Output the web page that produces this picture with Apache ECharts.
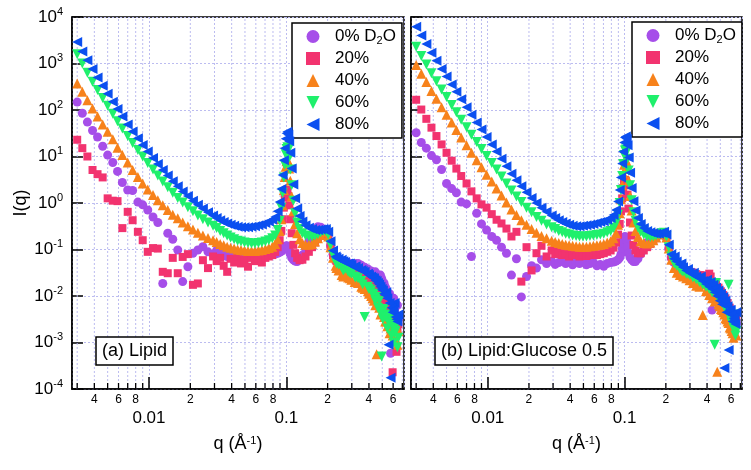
<!DOCTYPE html>
<html><head><meta charset="utf-8">
<script src="https://cdn.jsdelivr.net/npm/echarts@6/dist/echarts.min.js"></script>
<style>html,body{margin:0;padding:0;background:#fff}#c{width:751px;height:470px}</style>
</head><body><div id="c"></div>
<script>
// q values (Å^-1), shared by all series
const q = [0.0030,0.00327,0.00356,0.00388,0.00422,0.0046,0.0050,0.00545,0.0059,0.0064,
 0.0070,0.0076,0.0083,0.0090,0.0098,0.0107,0.0116,0.0126,0.0137,0.0149,
 0.0162,0.0176,0.0192,0.0209,0.0227,0.0247,0.0269,0.0293,0.0311,0.0330,
 0.0350,0.0371,0.0393,0.0417,0.0442,0.0468,0.0496,0.0526,0.0558,0.0591,
 0.0627,0.0664,0.0704,0.0746,0.0790,0.0830,0.0865,0.0895,0.0920,0.0940,
 0.0960,0.0975,0.0990,0.1005,0.1020,0.1035,0.1050,0.1070,0.1095,0.1125,
 0.1160,0.1200,0.1250,0.1310,0.1380,0.1460,0.1540,0.1620,0.1700,0.1780,
 0.1860,0.1940,0.2020,0.2100,0.2190,0.2290,0.2400,0.2530,0.2670,0.2820,
 0.2980,0.3150,0.3330,0.3520,0.3720,0.3930,0.4150,0.4350,0.4550,0.4750,
 0.4950,0.5150,0.5350,0.5550,0.5750,0.5950,0.6150,0.6350,0.6550];
// extra q values in the dense high-q tail
const qTail = [0.232,0.260,0.290,0.320,0.360,0.400,0.425,0.445,0.465,0.485,0.505,0.525,0.545,0.565,0.585,0.605,0.625,0.645];

// log10 I(q) (a) Lipid
const lipid_0 = [2.17,1.93,1.74,1.56,1.42,1.22,1.03,0.87,0.68,0.44,
 0.28,0.27,0.02,-0.04,-0.15,-0.30,-0.42,-1.73,-0.65,-0.78,
 -1.01,-1.69,-1.37,-1.08,-1.01,-0.94,-1.05,-1.10,-1.02,-1.12,
 -1.08,-1.15,-1.06,-1.12,-1.10,-1.14,-1.08,-1.12,-1.10,-1.13,
 -1.08,-1.10,-1.07,-1.05,-1.10,-1.10,-1.08,-1.06,-1.04,-1.02,
 -0.98,-0.95,-0.93,-0.92,-0.93,-0.97,-1.02,-1.10,-1.18,-1.22,
 -1.25,-1.26,-1.22,-1.12,-0.98,-0.82,-0.68,-0.56,-0.51,-0.52,
 -0.56,-0.60,-0.70,-0.92,-1.10,-1.18,-1.22,-1.24,-1.26,-1.28,
 -1.30,-1.30,-1.30,-1.34,-1.38,-1.42,-1.46,-1.50,-1.54,-1.58,
 -1.62,-1.72,-1.85,-1.98,-3.23,-2.10,-2.30,-2.20,-2.50];
const lipid_20 = [1.36,1.18,1.00,0.71,0.62,0.55,0.10,0.05,0.04,-0.54,
 -0.19,-0.37,-0.62,-0.80,-1.05,-0.97,-0.98,-1.48,-1.51,-1.18,
 -1.51,-1.16,-1.10,-1.76,-1.73,-1.23,-1.40,-1.15,-1.25,-1.18,
 -1.35,-1.48,-1.20,-1.28,-1.16,-1.30,-1.22,-1.37,-1.18,-1.25,
 -1.20,-1.28,-1.18,-1.15,-1.12,-1.05,-0.95,-0.80,-0.60,-0.35,
 -0.10,0.12,0.25,0.28,0.26,0.15,-0.05,-0.35,-0.65,-0.90,
 -1.08,-1.18,-1.23,-1.22,-1.15,-1.05,-0.95,-0.85,-0.76,-0.68,
 -0.64,-0.63,-0.70,-0.92,-1.12,-1.22,-1.28,-1.32,-1.35,-1.40,
 -1.45,-1.50,-1.52,-1.58,-1.62,-1.68,-1.75,-1.82,-1.90,-1.98,
 -2.05,-2.15,-2.25,-2.35,-2.20,-3.64,-2.45,-3.20,-2.60];
const lipid_40 = [2.57,2.39,2.21,2.03,1.86,1.69,1.53,1.37,1.19,1.03,
 0.87,0.71,0.56,0.42,0.29,0.17,0.06,-0.05,-0.15,-0.25,
 -0.33,-0.42,-0.50,-0.57,-0.64,-0.70,-0.75,-0.80,-0.84,-0.88,
 -0.91,-0.94,-0.96,-0.98,-1.00,-1.01,-1.02,-1.03,-1.03,-1.03,
 -1.02,-1.01,-0.99,-0.97,-0.94,-0.88,-0.78,-0.60,-0.35,-0.05,
 0.28,0.56,0.78,0.90,0.93,0.88,0.74,0.48,0.14,-0.18,
 -0.45,-0.65,-0.78,-0.86,-0.90,-0.90,-0.88,-0.83,-0.76,-0.69,
 -0.63,-0.62,-0.72,-0.95,-1.18,-1.35,-1.45,-1.55,-1.52,-1.60,
 -1.65,-1.70,-1.72,-1.80,-1.85,-1.90,-2.00,-2.10,-3.25,-2.25,
 -2.35,-2.45,-2.55,-2.40,-2.70,-2.85,-2.60,-2.95,-2.75];
const lipid_60 = [3.20,3.00,2.80,2.61,2.43,2.26,2.09,1.92,1.76,1.60,
 1.44,1.29,1.14,1.00,0.86,0.72,0.59,0.46,0.34,0.22,
 0.11,0.01,-0.09,-0.18,-0.27,-0.35,-0.42,-0.49,-0.54,-0.60,
 -0.65,-0.70,-0.74,-0.78,-0.81,-0.83,-0.85,-0.86,-0.87,-0.87,
 -0.86,-0.85,-0.83,-0.80,-0.76,-0.70,-0.58,-0.38,-0.10,0.22,
 0.55,0.82,1.05,1.16,1.20,1.14,0.98,0.72,0.38,0.05,
 -0.22,-0.42,-0.56,-0.65,-0.70,-0.72,-0.72,-0.70,-0.67,-0.63,
 -0.60,-0.60,-0.68,-0.90,-1.12,-1.25,-1.32,-1.38,-1.42,-1.48,
 -1.52,-1.58,-1.62,-1.68,-2.45,-1.80,-1.88,-1.95,-2.02,-2.10,
 -3.30,-2.28,-2.40,-2.52,-2.45,-2.65,-2.80,-2.62,-2.90];
const lipid_80 = [3.46,3.26,3.07,2.88,2.70,2.52,2.35,2.18,2.02,1.86,
 1.69,1.54,1.39,1.25,1.11,0.97,0.84,0.71,0.59,0.47,
 0.36,0.25,0.15,0.05,-0.04,-0.12,-0.20,-0.27,-0.32,-0.37,
 -0.41,-0.44,-0.47,-0.49,-0.51,-0.52,-0.52,-0.52,-0.51,-0.50,
 -0.48,-0.46,-0.43,-0.40,-0.36,-0.30,-0.18,0.02,0.30,0.60,
 0.92,1.18,1.38,1.50,1.53,1.47,1.33,1.08,0.74,0.40,
 0.10,-0.12,-0.28,-0.40,-0.48,-0.53,-0.56,-0.58,-0.58,-0.57,
 -0.56,-0.56,-0.62,-0.82,-1.02,-1.15,-1.20,-1.22,-1.27,-1.30,
 -1.33,-1.38,-1.40,-1.44,-1.48,-1.52,-1.58,-1.62,-1.68,-1.75,
 -1.85,-1.95,-1.92,-3.05,-3.76,-2.35,-2.15,-2.50,-2.40];
const lipid_0_tail = [-1.20,-1.27,-1.32,-1.34,-1.40,-1.50,-1.55,-1.48,-1.62,-1.55,-1.75,-1.80,-2.05,-1.95,-2.25,-2.05,-2.40,-2.20];
const lipid_20_tail = [-1.25,-1.34,-1.42,-1.50,-1.58,-1.66,-1.72,-1.85,-1.78,-2.00,-1.95,-2.20,-2.30,-2.45,-2.30,-2.60,-2.50,-2.75];
const lipid_40_tail = [-1.40,-1.58,-1.62,-1.68,-1.82,-1.95,-2.05,-2.20,-2.10,-2.40,-2.30,-2.55,-2.65,-2.80,-2.50,-2.95,-2.70,-3.05];
const lipid_60_tail = [-1.30,-1.45,-1.50,-1.60,-1.75,-1.85,-1.95,-2.10,-2.25,-2.35,-2.50,-2.45,-2.70,-2.60,-2.85,-3.00,-2.75,-3.10];
const lipid_80_tail = [-1.18,-1.25,-1.30,-1.36,-1.46,-1.55,-1.60,-1.66,-1.72,-1.80,-1.88,-1.98,-2.05,-2.15,-2.25,-2.30,-2.45,-2.55];

// log10 I(q) (b) Lipid:Glucose 0.5
const glucose_0 = [1.51,1.30,1.18,1.02,0.93,0.72,0.42,0.31,0.22,0.02,
 -0.02,-1.15,-0.22,-0.45,-0.58,-0.72,-0.80,-0.95,-1.08,-1.55,
 -1.20,-2.02,-1.58,-1.35,-1.40,-1.22,-1.30,-1.25,-1.32,-1.28,
 -1.22,-1.30,-1.26,-1.33,-1.28,-1.30,-1.27,-1.33,-1.30,-1.28,
 -1.35,-1.32,-1.36,-1.30,-1.28,-1.27,-1.25,-1.22,-1.18,-1.10,
 -0.98,-0.86,-0.76,-0.72,-0.74,-0.82,-0.94,-1.08,-1.17,-1.22,
 -1.26,-1.26,-1.20,-1.10,-0.98,-0.85,-0.74,-0.67,-0.65,-0.66,
 -0.66,-0.66,-0.74,-0.98,-1.18,-1.28,-1.34,-1.40,-1.45,-1.48,
 -1.52,-1.55,-1.58,-1.62,-1.66,-1.70,-1.76,-2.30,-1.85,-1.92,
 -2.00,-2.08,-2.15,-2.25,-2.38,-2.50,-2.62,-2.70,-2.60];
const glucose_20 = [2.22,2.01,1.81,1.62,1.44,1.26,1.08,0.91,0.74,0.58,
 0.42,0.25,0.10,-0.03,-0.10,-0.24,-0.36,-0.44,-0.55,-0.72,
 -0.62,-1.69,-0.95,-1.45,-1.08,-0.92,-1.15,-1.02,-1.10,-1.05,
 -1.12,-1.08,-1.15,-1.10,-1.12,-1.15,-1.10,-1.14,-1.12,-1.10,
 -1.12,-1.10,-1.08,-1.05,-1.02,-0.96,-0.85,-0.68,-0.45,-0.18,
 0.10,0.32,0.46,0.50,0.48,0.38,0.18,-0.12,-0.42,-0.70,
 -0.90,-1.02,-1.08,-1.08,-1.02,-0.95,-0.88,-0.80,-0.72,-0.68,
 -0.65,-0.64,-0.72,-0.95,-1.15,-1.25,-1.32,-1.38,-1.42,-1.45,
 -1.48,-1.50,-1.53,-1.56,-1.60,-1.65,-1.52,-1.72,-1.80,-1.85,
 -1.92,-2.00,-2.10,-2.20,-2.30,-2.45,-2.55,-2.65,-2.50];
const glucose_40 = [2.97,2.78,2.60,2.41,2.24,2.06,1.90,1.73,1.57,1.41,
 1.24,1.08,0.92,0.77,0.61,0.46,0.31,0.16,0.01,-0.14,
 -0.26,-0.37,-0.47,-0.56,-0.64,-0.71,-0.76,-0.81,-0.84,-0.86,
 -0.88,-0.90,-0.91,-0.92,-0.93,-0.94,-0.94,-0.94,-0.93,-0.92,
 -0.91,-0.90,-0.88,-0.85,-0.82,-0.76,-0.65,-0.47,-0.22,0.08,
 0.38,0.64,0.82,0.92,0.93,0.88,0.73,0.48,0.15,-0.16,
 -0.42,-0.60,-0.73,-0.82,-0.86,-0.87,-0.85,-0.80,-0.74,-0.68,
 -0.64,-0.64,-0.74,-0.98,-1.22,-1.40,-1.50,-1.55,-1.58,-1.62,
 -1.66,-1.72,-1.78,-1.80,-2.41,-1.90,-1.98,-2.05,-2.12,-3.63,
 -2.22,-2.30,-2.40,-2.50,-2.58,-2.70,-2.80,-2.60,-2.85];
const glucose_60 = [3.36,3.16,2.98,2.79,2.62,2.44,2.28,2.11,1.95,1.79,
 1.63,1.47,1.31,1.16,1.01,0.86,0.72,0.57,0.42,0.27,
 0.14,0.02,-0.10,-0.20,-0.30,-0.38,-0.46,-0.52,-0.56,-0.60,
 -0.63,-0.66,-0.68,-0.70,-0.71,-0.72,-0.72,-0.72,-0.71,-0.70,
 -0.69,-0.68,-0.66,-0.63,-0.60,-0.54,-0.43,-0.25,0.00,0.28,
 0.58,0.84,1.03,1.13,1.15,1.10,0.95,0.70,0.38,0.06,
 -0.20,-0.38,-0.52,-0.62,-0.68,-0.72,-0.73,-0.72,-0.70,-0.68,
 -0.65,-0.64,-0.72,-0.95,-1.15,-1.28,-1.35,-1.42,-1.48,-1.52,
 -1.55,-1.60,-1.64,-1.70,-1.75,-1.80,-1.85,-1.92,-3.05,-2.00,
 -2.08,-2.15,-2.22,-2.30,-1.76,-2.50,-2.62,-2.40,-2.75];
const glucose_80 = [3.79,3.60,3.42,3.23,3.06,2.88,2.72,2.55,2.39,2.23,
 2.06,1.90,1.73,1.58,1.42,1.26,1.11,0.95,0.79,0.63,
 0.49,0.36,0.23,0.11,0.00,-0.10,-0.19,-0.27,-0.32,-0.37,
 -0.41,-0.44,-0.47,-0.49,-0.50,-0.50,-0.49,-0.48,-0.47,-0.45,
 -0.43,-0.41,-0.39,-0.36,-0.32,-0.26,-0.15,0.03,0.28,0.55,
 0.85,1.10,1.30,1.41,1.43,1.38,1.24,0.98,0.65,0.32,
 0.04,-0.16,-0.32,-0.45,-0.54,-0.60,-0.63,-0.65,-0.66,-0.66,
 -0.64,-0.62,-0.68,-0.90,-1.10,-1.20,-1.26,-1.32,-1.38,-1.45,
 -1.50,-1.54,-1.58,-1.62,-1.68,-1.74,-1.80,-1.85,-1.92,-2.00,
 -2.10,-2.18,-3.55,-2.35,-3.16,-2.30,-2.55,-2.50,-2.35];
const glucose_0_tail = [-1.25,-1.36,-1.45,-1.50,-1.60,-1.68,-1.74,-1.80,-1.86,-1.92,-2.00,-2.08,-2.20,-2.30,-2.42,-2.55,-2.70,-2.65];
const glucose_20_tail = [-1.22,-1.40,-1.46,-1.52,-1.55,-1.62,-1.58,-1.70,-1.75,-1.82,-1.90,-1.98,-2.05,-2.15,-2.25,-2.38,-2.50,-2.60];
const glucose_40_tail = [-1.40,-1.55,-1.60,-1.65,-1.75,-1.85,-1.95,-2.02,-2.10,-2.18,-2.28,-2.35,-2.48,-2.55,-2.68,-2.75,-2.90,-2.80];
const glucose_60_tail = [-1.30,-1.45,-1.52,-1.58,-1.66,-1.72,-1.78,-1.85,-1.72,-1.95,-2.05,-2.10,-2.20,-2.35,-2.45,-2.58,-2.70,-2.85];
const glucose_80_tail = [-1.15,-1.30,-1.42,-1.50,-1.58,-1.65,-1.70,-1.76,-1.82,-1.88,-1.95,-2.02,-2.10,-2.22,-2.30,-2.40,-2.48,-2.60];

const seriesNames = ['0% D₂O', '20%', '40%', '60%', '80%'];
const panelTitles = ['(a) Lipid', '(b) Lipid:Glucose 0.5'];
const xMinorTicks = [0.003,0.004,0.005,0.006,0.007,0.008,0.009,0.02,0.03,0.04,0.05,0.06,0.07,0.08,0.09,0.2,0.3,0.4,0.5,0.6,0.7];
const xMinorLabels = ['','4','','6','','8','','2','','4','','6','','8','','2','','4','','6',''];

const panelData = [
  [lipid_0, lipid_20, lipid_40, lipid_60, lipid_80],
  [glucose_0, glucose_20, glucose_40, glucose_60, glucose_80]
];
const panelTail = [
  [lipid_0_tail, lipid_20_tail, lipid_40_tail, lipid_60_tail, lipid_80_tail],
  [glucose_0_tail, glucose_20_tail, glucose_40_tail, glucose_60_tail, glucose_80_tail]
];

const FONT = "'Liberation Sans', Arial, Helvetica, sans-serif";
const GRID_C = '#bcbcf0';
const Y_MIN = 1e-4, Y_MAX = 1e4, X_MIN = 0.00275, X_MAX = 0.72;
const styles = [
  {symbol: 'circle', rot: 0, size: 9, color: '#a64ee9', icon: 'circle'},
  {symbol: 'rect', rot: 0, size: 8, color: '#f2336f', icon: 'rect'},
  {symbol: 'triangle', rot: 0, size: 10, color: '#f7821b', icon: 'path://M5,0 L10,10 L0,10 Z'},
  {symbol: 'triangle', rot: 180, size: 10, color: '#1ff06c', icon: 'path://M0,0 L10,0 L5,10 Z'},
  {symbol: 'triangle', rot: 90, size: 10, color: '#0b4ff0', icon: 'path://M10,0 L10,10 L0,5 Z'}
];

const chart = echarts.init(document.getElementById('c'), null, {renderer: 'canvas'});

const gridPos = [{left: 72, width: 332}, {left: 411, width: 331}];
const legendPos = [{left: 292, top: 23}, {left: 632, top: 22}];
const titlePos = [{left: 96, top: 337}, {left: 435, top: 337}];

function minorRender(params, api) {
  const v = api.value(0);
  const idx = api.value(2);
  const pb = api.coord([v, Y_MIN]);
  const pt = api.coord([v, Y_MAX]);
  const children = [
    {type: 'line', silent: true, shape: {x1: pb[0], y1: pb[1], x2: pt[0], y2: pt[1]},
     style: {stroke: GRID_C, lineWidth: 1, lineDash: [2, 2]}},
    {type: 'line', silent: true, shape: {x1: pb[0], y1: pb[1], x2: pb[0], y2: pb[1] - 6},
     style: {stroke: '#000', lineWidth: 1.3}}
  ];
  const lab = xMinorLabels[idx];
  if (lab) {
    children.push({type: 'text', silent: true, x: pb[0], y: pb[1] + 5,
      style: {text: lab, fontSize: 12, fontFamily: FONT, fill: '#000', align: 'center', verticalAlign: 'top'}});
  }
  return {type: 'group', children};
}

const grids = [], xAxes = [], yAxes = [], series = [], legends = [], titles = [];
for (let p = 0; p < 2; p++) {
  grids.push({left: gridPos[p].left, width: gridPos[p].width, top: 17, height: 372,
    show: true, borderColor: '#000', borderWidth: 1.5, backgroundColor: 'transparent',
    containLabel: false, outerBoundsMode: 'none'});
  xAxes.push({type: 'log', logBase: 10, gridIndex: p, min: X_MIN, max: X_MAX,
    name: 'q (Å{sup|-1})', nameLocation: 'middle', nameGap: 46,
    nameTextStyle: {fontSize: 18, fontFamily: FONT, color: '#000',
      rich: {sup: {fontSize: 11, fontFamily: FONT, color: '#000', verticalAlign: 'top'}}},
    axisLine: {show: true, lineStyle: {color: '#000', width: 1.5}},
    axisTick: {show: true, inside: true, length: 12, lineStyle: {color: '#000', width: 1.5}},
    axisLabel: {show: true, margin: 21, fontSize: 17, fontFamily: FONT, color: '#000',
      showMinLabel: false, showMaxLabel: false,
      formatter: function (v) {
        const e = Math.log10(v);
        if (Math.abs(e - Math.round(e)) < 1e-6) { return String(Number(v.toPrecision(1))); }
        return '';
      }},
    splitLine: {show: true, lineStyle: {color: GRID_C, width: 1, type: [2, 2]}},
    minorTick: {show: false}, minorSplitLine: {show: false}
  });
  yAxes.push({type: 'log', logBase: 10, gridIndex: p, min: Y_MIN, max: Y_MAX,
    name: p === 0 ? 'I(q)' : '', nameLocation: 'middle', nameGap: 42, nameRotate: 90,
    nameTextStyle: {fontSize: 18, fontFamily: FONT, color: '#000'},
    axisLine: {show: true, lineStyle: {color: '#000', width: 1.5}},
    axisTick: {show: true, inside: true, length: 11, lineStyle: {color: '#000', width: 1.5}},
    axisLabel: {show: p === 0, margin: 9, fontFamily: FONT, color: '#000',
      showMinLabel: true, showMaxLabel: true,
      formatter: function (v) {
        const e = Math.round(Math.log10(v));
        return '{b|10}{s|' + e + '}';
      },
      rich: {b: {fontSize: 17, fontFamily: FONT, color: '#000', lineHeight: 22},
             s: {fontSize: 11, fontFamily: FONT, color: '#000', verticalAlign: 'top', lineHeight: 12}}},
    splitLine: {show: true, lineStyle: {color: GRID_C, width: 1, type: [2, 2]}}
  });
  series.push({type: 'custom', name: 'minorTicks' + p, xAxisIndex: p, yAxisIndex: p,
    clip: false, silent: true, z: 1, renderItem: minorRender,
    encode: {x: 0, y: 1},
    data: xMinorTicks.map((v, i) => [v, 1, i])});
  for (let k = 0; k < 5; k++) {
    const st = styles[k];
    const vals = panelData[p][k];
    const tail = panelTail[p][k];
    const pts = q.map((x, i) => [x, Math.pow(10, vals[i])])
      .concat(qTail.map((x, i) => [x, Math.pow(10, tail[i])]));
    series.push({type: 'scatter', name: seriesNames[k], xAxisIndex: p, yAxisIndex: p,
      symbol: st.symbol, symbolRotate: st.rot, symbolSize: st.size, symbolKeepAspect: true, z: 2 + k,
      itemStyle: {color: st.color, opacity: 1}, emphasis: {disabled: true}, silent: true,
      data: pts});
  }
  legends.push({show: true, orient: 'vertical', left: legendPos[p].left, top: legendPos[p].top,
    data: seriesNames.map((n, k) => ({name: n, icon: styles[k].icon})),
    selectedMode: false, itemWidth: 14, itemHeight: 13, itemGap: 3,
    padding: [4, 6, 4, 14], borderColor: '#000', borderWidth: 1.5, backgroundColor: '#fff',
    symbolKeepAspect: true,
    formatter: function (n) { return n === '0% D₂O' ? '{t|0% D}{sub|2}{t|O}' : '{t|' + n + '}'; },
    textStyle: {fontSize: 17, fontFamily: FONT, color: '#000', lineHeight: 19, padding: [0, 0, 0, 10],
      rich: {t: {fontSize: 17, fontFamily: FONT, color: '#000', lineHeight: 19},
             sub: {fontSize: 11, fontFamily: FONT, color: '#000', verticalAlign: 'bottom', lineHeight: 11}}}});
  titles.push({text: panelTitles[p], left: titlePos[p].left, top: titlePos[p].top,
    borderColor: '#000', borderWidth: 1.5, backgroundColor: '#fff', padding: [5, 6, 5, 6],
    textStyle: {fontSize: 18, fontWeight: 'normal', fontFamily: FONT, color: '#000'}});
}

chart.setOption({
  animation: false,
  backgroundColor: '#fff',
  title: titles,
  legend: legends,
  grid: grids,
  xAxis: xAxes,
  yAxis: yAxes,
  series: series
});
</script></body></html>
